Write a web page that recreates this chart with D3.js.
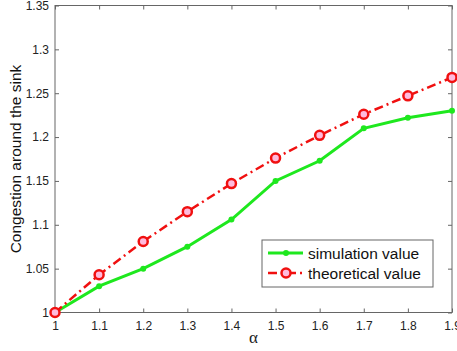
<!DOCTYPE html>
<html>
<head>
<meta charset="utf-8">
<script src="https://cdn.jsdelivr.net/npm/d3@7"></script>
<style>
  body { margin: 0; background: #fff; }
</style>
</head>
<body>
<div id="chart"></div>
<script>
var width = 457;
var height = 351;

var alphas = [1.0, 1.1, 1.2, 1.3, 1.4, 1.5, 1.6, 1.7, 1.8, 1.9];
var simulation = [1.0, 1.030, 1.050, 1.075, 1.106, 1.150, 1.173, 1.210, 1.222, 1.230];
var theoretical = [1.0, 1.043, 1.081, 1.115, 1.147, 1.176, 1.202, 1.226, 1.247, 1.268];
var xTicks = [1, 1.1, 1.2, 1.3, 1.4, 1.5, 1.6, 1.7, 1.8, 1.9];
var yTicks = [1, 1.05, 1.1, 1.15, 1.2, 1.25, 1.3, 1.35];

var margin = {left: 55, right: 5, top: 5.5, bottom: 38.5};

var svg = d3.select("#chart")
    .append("svg")
    .attr("width", width)
    .attr("height", height)
    .attr("font-family", "Liberation Sans, Arial, sans-serif");

var x = d3.scaleLinear().domain([1, 1.9]).range([margin.left, width - margin.right]);
var y = d3.scaleLinear().domain([1, 1.35]).range([height - margin.bottom, margin.top]);

var axisColor = "#666";

// box
svg.append("rect")
    .attr("x", x(1)).attr("y", y(1.35))
    .attr("width", x(1.9) - x(1)).attr("height", y(1) - y(1.35))
    .attr("fill", "none").attr("stroke", axisColor).attr("stroke-width", 1);

// axes, ticks pointing in
function styleAxis(g) {
  g.select(".domain").remove();
  g.selectAll(".tick line").attr("stroke", axisColor);
  g.selectAll(".tick text").attr("fill", "#222").attr("font-size", 12);
}

svg.append("g")
    .attr("transform", "translate(0," + y(1) + ")")
    .call(d3.axisBottom(x).tickValues(xTicks).tickSizeInner(-4).tickPadding(9).tickFormat(d3.format("")))
    .call(styleAxis);

svg.append("g")
    .attr("transform", "translate(0," + y(1.35) + ")")
    .call(d3.axisTop(x).tickValues(xTicks).tickSizeInner(-4).tickFormat(""))
    .call(styleAxis);

svg.append("g")
    .attr("transform", "translate(" + x(1) + ",0)")
    .call(d3.axisLeft(y).tickValues(yTicks).tickSizeInner(-4).tickPadding(6).tickFormat(d3.format("")))
    .call(styleAxis);

svg.append("g")
    .attr("transform", "translate(" + x(1.9) + ",0)")
    .call(d3.axisRight(y).tickValues(yTicks).tickSizeInner(-4).tickFormat(""))
    .call(styleAxis);

// lines
var line = d3.line()
    .x(function(d) { return x(d[0]); })
    .y(function(d) { return y(d[1]); });

var simData = alphas.map(function(a, i) { return [a, simulation[i]]; });
var theoData = alphas.map(function(a, i) { return [a, theoretical[i]]; });

var green = "#1ee81e";
var red = "#f01010";

svg.append("path")
    .datum(simData)
    .attr("d", line)
    .attr("fill", "none")
    .attr("stroke", green)
    .attr("stroke-width", 3);

svg.selectAll(".sim")
    .data(simData)
    .enter().append("circle")
    .attr("class", "sim")
    .attr("cx", function(d) { return x(d[0]); })
    .attr("cy", function(d) { return y(d[1]); })
    .attr("r", 3)
    .attr("fill", green);

svg.append("path")
    .datum(theoData)
    .attr("d", line)
    .attr("fill", "none")
    .attr("stroke", red)
    .attr("stroke-width", 2.5)
    .attr("stroke-dasharray", "9,4,2,4");

svg.selectAll(".theo")
    .data(theoData)
    .enter().append("circle")
    .attr("class", "theo")
    .attr("cx", function(d) { return x(d[0]); })
    .attr("cy", function(d) { return y(d[1]); })
    .attr("r", 4.5)
    .attr("fill", "#fbd")
    .attr("stroke", red)
    .attr("stroke-width", 2.5);

// axis labels
svg.append("text")
    .attr("x", (x(1) + x(1.9)) / 2)
    .attr("y", 343)
    .attr("text-anchor", "middle")
    .attr("font-family", "Liberation Serif, Times New Roman, serif")
    .attr("font-size", 17)
    .attr("fill", "#222")
    .text("α");

svg.append("text")
    .attr("transform", "translate(21," + (y(1) + y(1.35)) / 2 + ") rotate(-90)")
    .attr("text-anchor", "middle")
    .attr("font-size", 15.5)
    .attr("fill", "#111")
    .text("Congestion around the sink");

// legend
var legend = svg.append("g").attr("transform", "translate(262,240)");
legend.append("rect")
    .attr("width", 171).attr("height", 47)
    .attr("fill", "#fff").attr("stroke", axisColor).attr("stroke-width", 1);

var legendItems = [
  {label: "simulation value", color: green, dash: null, w: 3},
  {label: "theoretical value", color: red, dash: "9,4,2,4", w: 2.5}
];

legendItems.forEach(function(d, i) {
  var yy = 13 + i * 20;
  legend.append("line")
      .attr("x1", 6).attr("x2", 41).attr("y1", yy).attr("y2", yy)
      .attr("stroke", d.color).attr("stroke-width", d.w)
      .attr("stroke-dasharray", d.dash);
  if (i === 0) {
    legend.append("circle").attr("cx", 24).attr("cy", yy).attr("r", 3).attr("fill", d.color);
  } else {
    legend.append("circle").attr("cx", 24).attr("cy", yy).attr("r", 4.5)
        .attr("fill", "#fbd").attr("stroke", d.color).attr("stroke-width", 2.5);
  }
  legend.append("text")
      .attr("x", 46).attr("y", yy + 5.5)
      .attr("font-size", 15.5)
      .attr("fill", "#111")
      .text(d.label);
});
</script>
</body>
</html>
